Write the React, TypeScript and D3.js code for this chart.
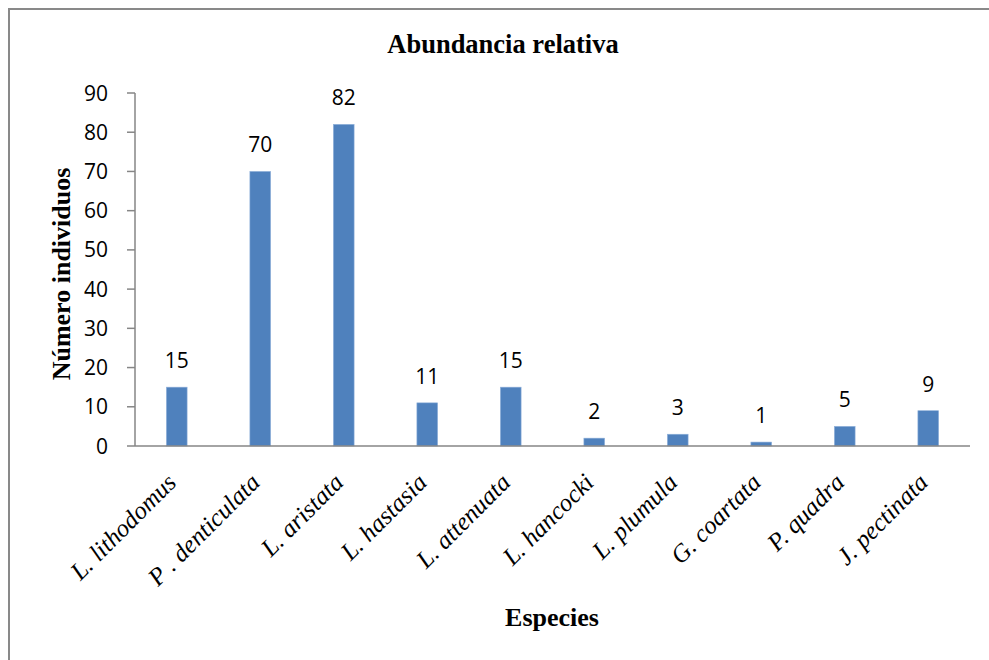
import React from "react";
import * as d3 from "d3";

const species = [
  "L. lithodomus",
  "P . denticulata",
  "L. aristata",
  "L. hastasia",
  "L. attenuata",
  "L. hancocki",
  "L. plumula",
  "G. coartata",
  "P. quadra",
  "J. pectinata",
];
const counts = [15, 70, 82, 11, 15, 2, 3, 1, 5, 9];
const yTicks = [0, 10, 20, 30, 40, 50, 60, 70, 80, 90];

const W = 989;
const H = 660;
const plot = { left: 135, right: 970, top: 93, bottom: 446 };

export default function App() {
  const x = d3
    .scaleBand<string>()
    .domain(species)
    .range([plot.left, plot.right])
    .paddingInner(0.752)
    .paddingOuter(0.376);
  const y = d3.scaleLinear().domain([0, 90]).range([plot.bottom, plot.top]);

  const sans = "'Open Sans', 'Liberation Sans', Arial, sans-serif";
  const serif = "'Liberation Serif', 'Times New Roman', serif";

  return (
    <svg
      width={W}
      height={H}
      style={{ position: "absolute", left: 0, top: 0, background: "#fff" }}
    >
      <rect x={9} y={9} width={W + 20} height={H + 20} fill="#fff" stroke="#898989" strokeWidth={2} />

      <text x={503} y={53} textAnchor="middle" fontFamily={serif} fontWeight="bold" fontSize={26.5}>
        Abundancia relativa
      </text>

      {/* y axis */}
      <line x1={plot.left} x2={plot.left} y1={plot.top} y2={plot.bottom} stroke="#868686" strokeWidth={1.5} />
      {yTicks.map((t) => (
        <g key={t}>
          <line x1={plot.left - 8} x2={plot.left} y1={y(t)} y2={y(t)} stroke="#868686" strokeWidth={1.5} />
          <text x={108} y={y(t)} dy="0.36em" textAnchor="end" fontFamily={sans} fontSize={21}>
            {t}
          </text>
        </g>
      ))}

      {/* bars */}
      {species.map((s, i) => (
        <g key={s}>
          <rect
            x={x(s)}
            y={y(counts[i])}
            width={x.bandwidth()}
            height={plot.bottom - y(counts[i])}
            fill="#4F81BD"
            stroke="#8FB0DA"
            strokeWidth={0.6}
          />
          <text
            x={(x(s) as number) + x.bandwidth() / 2}
            y={y(counts[i]) - 19}
            textAnchor="middle"
            fontFamily={sans}
            fontSize={21}
          >
            {counts[i]}
          </text>
          <text
            transform={`translate(${(x(s) as number) + x.bandwidth() / 2 + 1},${plot.bottom + 38}) rotate(-45)`}
            textAnchor="end"
            fontFamily={serif}
            fontStyle="italic"
            fontSize={25}
          >
            {s}
          </text>
        </g>
      ))}

      {/* x axis */}
      <line x1={plot.left} x2={plot.right} y1={plot.bottom} y2={plot.bottom} stroke="#868686" strokeWidth={1.5} />

      <text
        transform={`translate(70,274) rotate(-90)`}
        textAnchor="middle"
        fontFamily={serif}
        fontWeight="bold"
        fontSize={26}
      >
        Número individuos
      </text>

      <text x={552} y={626} textAnchor="middle" fontFamily={serif} fontWeight="bold" fontSize={26}>
        Especies
      </text>
    </svg>
  );
}
